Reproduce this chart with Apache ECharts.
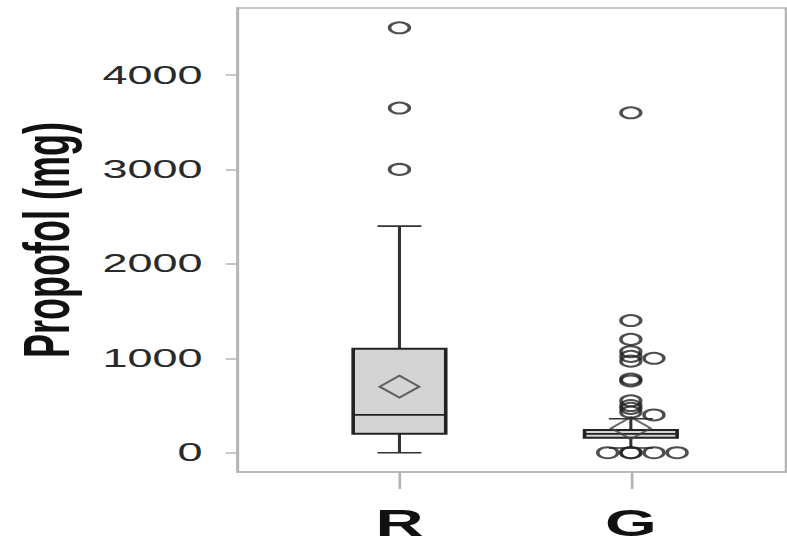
<!DOCTYPE html>
<html>
<head>
<meta charset="utf-8">
<script src="https://cdn.jsdelivr.net/npm/echarts@6/dist/echarts.min.js"></script>
<style>
  html, body { margin: 0; padding: 0; background: #fff; overflow: hidden; }
  /* the source picture is stretched sideways, so draw narrow and stretch the same way */
  #chart { width: 437px; height: 542px; transform: scaleX(1.8009); transform-origin: left top; }
</style>
</head>
<body>
<div id="chart"></div>
<script>
// groups on the x axis
var groups = ['R', 'G']
var yTicks = [0, 1000, 2000, 3000, 4000]

// box stats: [low whisker, q1, median, q3, high whisker]
var rStats = [0, 200, 400, 1100, 2400]
var gStats = [50, 160, 200, 240, 360]

// means
var means = [700, 260]

// outliers
var rOutliers = [4500, 3650, 3000]
var gOutliers = [3600, 1400, 1200, 1070, 1020, 970, 1000, 780, 760, 550, 500, 470, 430, 400, 0, 0, 0, 0, 0]
// side-by-side slot of each G outlier (0 = on the centre line)
var gOutlierSlot = [0, 0, 0, 0, 0, 0, 1, 0, 0, 0, 0, 0, 0, 1, -1, 0, 0, 1, 2]

var dodge = 0.1
var boxData = [[1].concat(rStats), [2].concat(gStats)]

var outlierData = []
rOutliers.forEach(function (v) { outlierData.push([1, v]) })
gOutliers.forEach(function (v, i) { outlierData.push([2 + gOutlierSlot[i] * dodge, v]) })

var meanData = means.map(function (v, i) { return [i + 1, v] })

function renderBox (params, api) {
  var x = api.value(0)
  var low = api.coord([x, api.value(1)])
  var q1 = api.coord([x, api.value(2)])
  var med = api.coord([x, api.value(3)])
  var q3 = api.coord([x, api.value(4)])
  var high = api.coord([x, api.value(5)])
  var halfBox = api.size([0.2, 0])[0]
  var halfCap = api.size([0.095, 0])[0]
  var cx = low[0]
  var line = { stroke: '#333', lineWidth: 1.7 }
  return {
    type: 'group',
    children: [
      { type: 'line', shape: { x1: cx, y1: q3[1], x2: cx, y2: high[1] }, style: line },
      { type: 'line', shape: { x1: cx, y1: q1[1], x2: cx, y2: low[1] }, style: line },
      { type: 'line', shape: { x1: cx - halfCap, y1: high[1], x2: cx + halfCap, y2: high[1] }, style: line },
      { type: 'line', shape: { x1: cx - halfCap, y1: low[1], x2: cx + halfCap, y2: low[1] }, style: line },
      { type: 'rect', shape: { x: cx - halfBox, y: q3[1], width: halfBox * 2, height: q1[1] - q3[1] },
        style: { fill: '#d4d4d4', stroke: '#222', lineWidth: 2 } },
      { type: 'line', shape: { x1: cx - halfBox, y1: med[1], x2: cx + halfBox, y2: med[1] }, style: { stroke: '#222', lineWidth: 1.8 } }
    ]
  }
}

var chart = echarts.init(document.getElementById('chart'), null, { renderer: 'svg' })
chart.setOption({
  animation: false,
  backgroundColor: '#fff',
  grid: { left: 131.6, right: 0.5, top: 8, bottom: 70, show: true, borderColor: '#b4b4b4', borderWidth: 1.5, backgroundColor: '#fff' },
  xAxis: {
    type: 'value', min: 0.301, max: 2.671,
    splitLine: { show: false },
    axisLine: { show: true, onZero: false, lineStyle: { color: '#b4b4b4', width: 1.5 } },
    axisTick: { show: true, length: 17, customValues: [1, 2], lineStyle: { color: '#b4b4b4', width: 1.5 } },
    axisLabel: {
      customValues: [1, 2], margin: 32,
      formatter: function (v) { return groups[Math.round(v) - 1] },
      fontFamily: 'Liberation Sans', fontWeight: 'bold', fontSize: 37, color: '#111'
    }
  },
  yAxis: {
    type: 'value', min: -204, max: 4709.5,
    name: 'Propofol (mg)', nameLocation: 'middle', nameGap: 88,
    nameTextStyle: { fontFamily: 'Liberation Sans', fontWeight: 'bold', fontSize: 36, color: '#111' },
    splitLine: { show: false },
    axisLine: { show: true, onZero: false, lineStyle: { color: '#b4b4b4', width: 1.5 } },
    axisTick: { show: true, length: 6.7, customValues: yTicks, lineStyle: { color: '#b4b4b4', width: 1.5 } },
    axisLabel: {
      customValues: yTicks, margin: 19.5,
      formatter: function (v) { return String(v) },
      fontFamily: 'Liberation Sans', fontSize: 25, color: '#2a2a2a'
    }
  },
  series: [
    { type: 'custom', renderItem: renderBox, data: boxData, z: 2, silent: true },
    {
      type: 'scatter', data: meanData, symbol: 'diamond', symbolSize: 22, z: 3, silent: true,
      itemStyle: { color: 'rgba(0,0,0,0)', borderColor: '#444', borderWidth: 1.6 }
    },
    {
      type: 'scatter', data: outlierData, symbol: 'circle', symbolSize: 11, z: 4, silent: true,
      itemStyle: { color: 'rgba(0,0,0,0)', borderColor: '#222', borderWidth: 2 }
    }
  ]
})
</script>
</body>
</html>
